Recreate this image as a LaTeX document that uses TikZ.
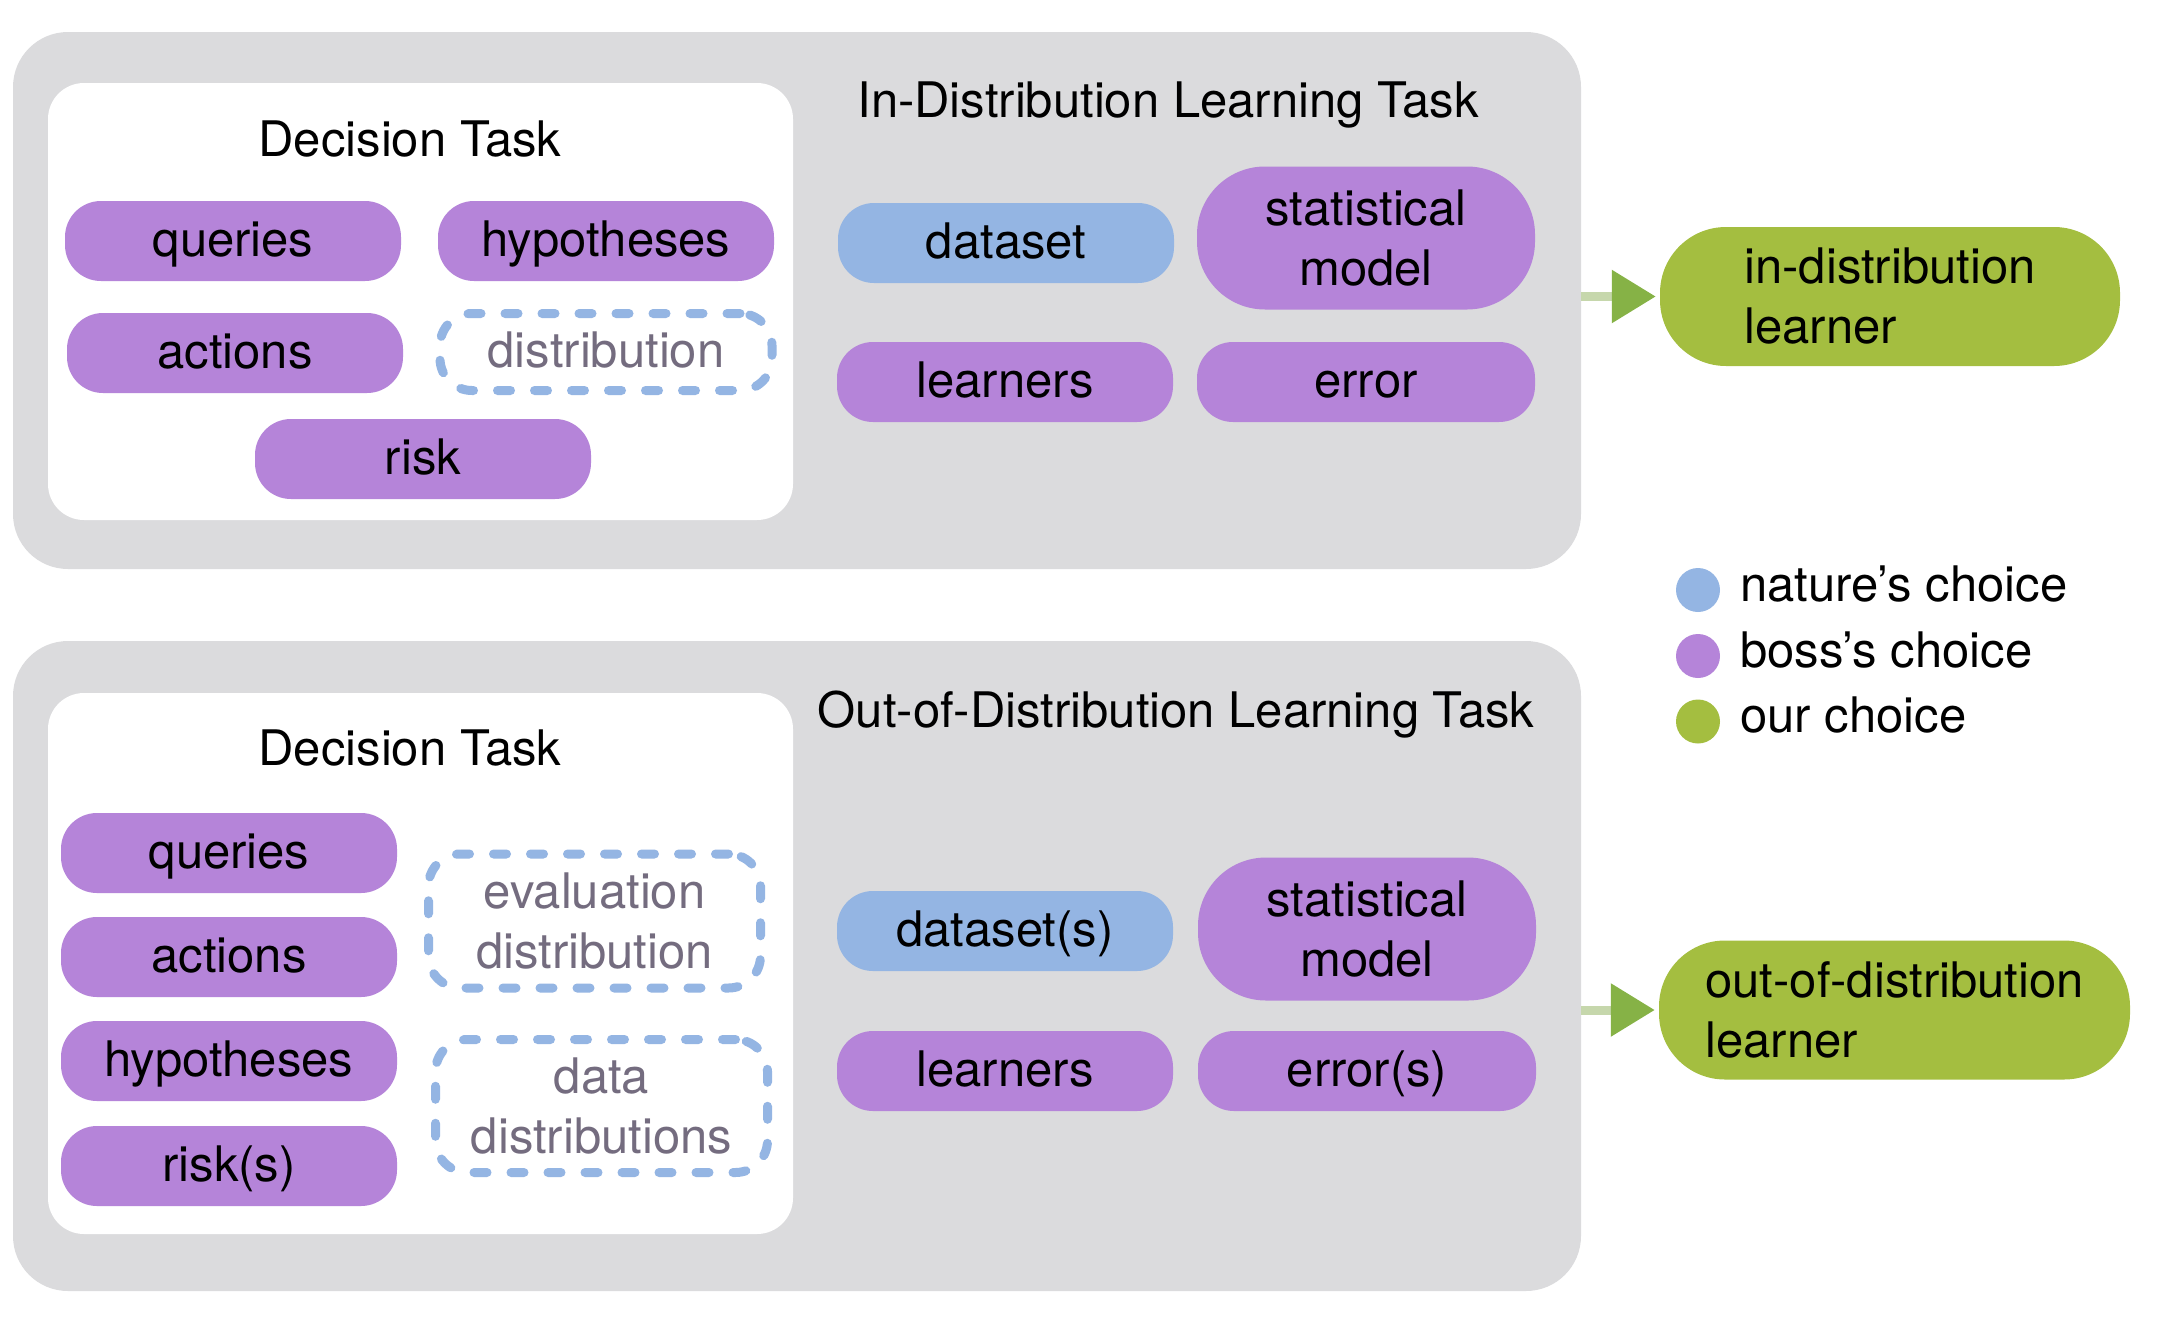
\documentclass[tikz,border=0pt]{standalone}
\usepackage{fontspec}
\setmainfont{TeX Gyre Heros}
\usepackage{xcolor}
\usepackage{tikz}
\usetikzlibrary{arrows.meta,positioning,calc}
\definecolor{boxgray}{HTML}{DBDBDD}
\definecolor{bosspurple}{HTML}{B584D9}
\definecolor{natureblue}{HTML}{94B5E3}
\definecolor{ourgreen}{HTML}{A4BE40}
\definecolor{distgray}{HTML}{746C7F}
\definecolor{shaftgreen}{HTML}{C6D7AC}
\definecolor{tipgreen}{HTML}{86B246}

\begin{document}
\begin{tikzpicture}[x=1pt, y=-1pt, >=Latex,
  every node/.style={font=\fontsize{49}{60}\selectfont, inner sep=0pt},
  task/.style={fill=boxgray, rounded corners=55pt, minimum width=1568pt},
  decision/.style={fill=white, rounded corners=36pt, minimum width=745pt},
  single/.style={text height=40pt, text depth=10pt},
  pill/.style={single, rounded corners=36pt, minimum width=336pt, minimum height=80pt},
  boss/.style={pill, fill=bosspurple},
  nature/.style={pill, fill=natureblue},
  tall/.style={fill=bosspurple, rounded corners=68pt, minimum width=338pt, minimum height=143pt, align=center},
  hidden/.style={draw=natureblue, line width=9pt, dash pattern=on 13pt off 24pt, line cap=round,
    rounded corners=32pt, text=distgray, minimum width=332pt, align=center},
  learner/.style={fill=ourgreen, rounded corners=66pt, minimum height=139pt, align=left},
  flow/.style={line width=9pt, shaftgreen, -{Triangle[length=44pt, width=51pt, color=tipgreen]}, shorten >=4pt},
  dot/.style={circle, minimum size=44pt},
  legtext/.style={anchor=base west}]
\useasboundingbox (0,0) rectangle (2163,1320);

% in-distribution
\node[task, minimum height=537pt] (idtask) at (797,300.5) {};
\node[decision, minimum height=437pt] (iddec) at (420.5,301.5) {};
\node[anchor=base] (iddectitle) at (410,156) {Decision Task};
\node[anchor=base] (idtitle) at (1168,117) {In-Distribution Learning Task};
\node[boss] (idqueries) at (233,241) {queries};
\node[boss] (idhyp) at (606,241) {hypotheses};
\node[boss] (idactions) at (235,353) {actions};
\node[hidden, single, minimum height=77pt] (iddist) at (606,352) {distribution};
\node[boss] (idrisk) at (423,459) {risk};
\node[nature] (iddata) at (1006,243) {dataset};
\node[tall] (idmodel) at (1366,238) {statistical\\model};
\node[boss] (idlearners) at (1005,382) {learners};
\node[boss, minimum width=338pt] (iderror) at (1366,382) {error};
\node[learner, minimum width=460pt] (idl) at (1890,296.5) {in-distribution\\learner};
\draw[flow] (idtask.east |- idl.west) -- (idl.west);

% out-of-distribution
\node[task, minimum height=650pt] (oodtask) at (797,966) {};
\node[decision, minimum height=541pt] (ooddec) at (420.5,963.5) {};
\node[anchor=base] (ooddectitle) at (410,765) {Decision Task};
\node[anchor=base] (oodtitle) at (1176,727) {Out-of-Distribution Learning Task};
\node[boss] (oodqueries) at (229,853) {queries};
\node[boss] (oodactions) at (229,957) {actions};
\node[boss] (oodhyp) at (229,1061) {hypotheses};
\node[boss] (oodrisk) at (229,1166) {risk(s)};
\node[hidden, minimum height=134pt] (oodeval) at (594.5,921) {evaluation\\distribution};
\node[hidden, minimum height=133pt] (ooddist) at (601.5,1106) {data\\distributions};
\node[nature] (ooddata) at (1005,931) {dataset(s)};
\node[tall] (oodmodel) at (1367,929) {statistical\\model};
\node[boss] (oodlearners) at (1005,1071) {learners};
\node[boss, minimum width=338pt] (ooderror) at (1367,1071) {error(s)};
\node[learner, minimum width=471pt] (oodl) at (1894.5,1010) {out-of-distribution\\learner};
\draw[flow] (oodtask.east |- oodl.west) -- (oodl.west);

% legend
\node[dot, fill=natureblue] (natdot) at (1698,590) {};
\node[dot, fill=bosspurple] (bossdot) at (1698,656) {};
\node[dot, fill=ourgreen] (ourdot) at (1698,721.5) {};
\node[legtext] (nattxt) at ($(natdot.center)+(42,11)$) {nature’s choice};
\node[legtext] (bosstxt) at ($(bossdot.center)+(42,11)$) {boss’s choice};
\node[legtext] (ourtxt) at ($(ourdot.center)+(42,11)$) {our choice};
\end{tikzpicture}
\end{document}
